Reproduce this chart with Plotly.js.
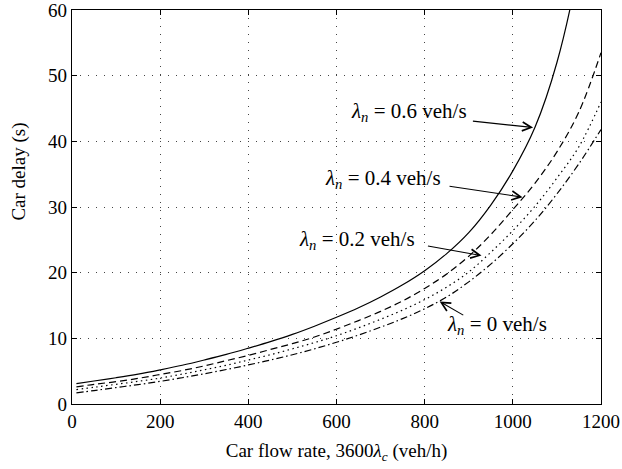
<!DOCTYPE html>
<html>
<head>
<meta charset="utf-8">
<script src="https://cdn.plot.ly/plotly-3.0.1.min.js"></script>
<style>html,body{margin:0;padding:0;background:#fff;}#chart{width:622px;height:469px;}</style>
</head>
<body>
<div id="chart"></div>
<script>
// Car flow rate, 3600*lambda_c (veh/h)
const flowRate = [10, 50, 100, 150, 200, 250, 300, 350, 400, 450, 500, 550, 600, 650, 700, 750, 800, 850, 900, 950, 1000, 1050, 1100, 1150, 1200];
// Car delay (s) for each pedestrian arrival rate lambda_n
const delay06 = [3.1, 3.5, 4.0, 4.55, 5.2, 5.9, 6.7, 7.55, 8.5, 9.5, 10.6, 11.85, 13.2, 14.65, 16.3, 18.15, 20.3, 22.9, 26.1, 30.3, 35.5, 42.1, 52.0, 67.0, 90.0];
const delay04 = [2.6, 3.0, 3.4, 3.9, 4.5, 5.1, 5.8, 6.6, 7.4, 8.3, 9.2, 10.2, 11.4, 12.7, 14.1, 15.7, 17.6, 19.8, 22.5, 25.8, 29.6, 33.6, 38.4, 44.5, 53.5];
const delay02 = [2.2, 2.55, 3.0, 3.45, 3.95, 4.55, 5.2, 5.9, 6.7, 7.5, 8.4, 9.35, 10.4, 11.6, 12.9, 14.3, 15.9, 17.8, 20.1, 23.1, 26.4, 30.1, 34.4, 39.2, 46.0];
const delay00 = [1.7, 2.05, 2.5, 2.95, 3.45, 4.0, 4.6, 5.25, 5.95, 6.7, 7.5, 8.4, 9.4, 10.5, 11.7, 13.0, 14.5, 16.3, 18.6, 21.3, 24.4, 27.9, 32.0, 36.6, 41.8];

const seriesLabels = ['0.6', '0.4', '0.2', '0'];
// label anchor (text centre) and arrow tail/head, in data units
const labelX = [765, 706, 647, 965];
const labelY = [44.4, 34.2, 25.0, 12.1];
const tailX = [906, 853, 804, 891];
const tailY = [43.1, 33.2, 24.1, 13.4];
const headX = [1046, 1022, 929, 834];
const headY = [42.1, 31.5, 22.6, 15.6];

const FONT = 'Liberation Serif, Times New Roman, serif';
const lineW = 1.2;
const mk = (y, dash) => ({
  x: flowRate, y: y, type: 'scatter', mode: 'lines',
  line: {color: '#000', width: lineW, dash: dash, shape: 'spline', smoothing: 1},
  hoverinfo: 'skip', showlegend: false
});
const traces = [
  mk(delay06, 'solid'),
  mk(delay04, '7px,4px'),
  mk(delay02, '1.5px,3.5px'),
  mk(delay00, '7px,3px,1.5px,3px')
];

const annotations = [];
for (let i = 0; i < seriesLabels.length; i++) {
  annotations.push({
    x: labelX[i], y: labelY[i], xref: 'x', yref: 'y',
    text: '<i>λ</i><sub><i>n</i></sub> = ' + seriesLabels[i] + ' veh/s',
    showarrow: false, xanchor: 'center', yanchor: 'middle',
    font: {family: FONT, size: 21, color: '#000'}
  });
  annotations.push({
    x: headX[i], y: headY[i], ax: tailX[i], ay: tailY[i],
    xref: 'x', yref: 'y', axref: 'x', ayref: 'y',
    text: '', showarrow: true, arrowhead: 5, arrowsize: 1.6, arrowwidth: 1.1,
    arrowcolor: '#000', standoff: 0, startstandoff: 0
  });
}
// y-axis title (placed as in the reference, slightly above the axis centre)
annotations.push({
  xref: 'paper', yref: 'paper', x: -0.102, y: 0.59,
  text: 'Car delay (s)', textangle: -90, showarrow: false,
  xanchor: 'center', yanchor: 'middle',
  font: {family: FONT, size: 19, color: '#000'}
});

const axisCommon = {
  showline: true, linecolor: '#000', linewidth: 1.2, mirror: 'ticks',
  ticks: 'inside', ticklen: 5, tickwidth: 1, tickcolor: '#000',
  showgrid: true, gridcolor: '#444', gridwidth: 1, griddash: '1px,7px',
  zeroline: false, ticklabeloverflow: 'allow',
  tickfont: {family: FONT, size: 19, color: '#000'}
};

const layout = {
  width: 622, height: 469,
  margin: {l: 72, r: 21, t: 10, b: 65},
  paper_bgcolor: '#fff', plot_bgcolor: '#fff',
  font: {family: FONT, color: '#000'},
  xaxis: Object.assign({}, axisCommon, {
    range: [0, 1200], tickvals: [0, 200, 400, 600, 800, 1000, 1200],
    title: {text: 'Car flow rate, 3600<i>λ</i><sub><i>c</i></sub> (veh/h)', font: {family: FONT, size: 19, color: '#000'}, standoff: 12}
  }),
  yaxis: Object.assign({}, axisCommon, {
    range: [0, 60], tickvals: [0, 10, 20, 30, 40, 50, 60]
  }),
  annotations: annotations
};

Plotly.newPlot('chart', traces, layout, {staticPlot: true, displayModeBar: false});
</script>
</body>
</html>
